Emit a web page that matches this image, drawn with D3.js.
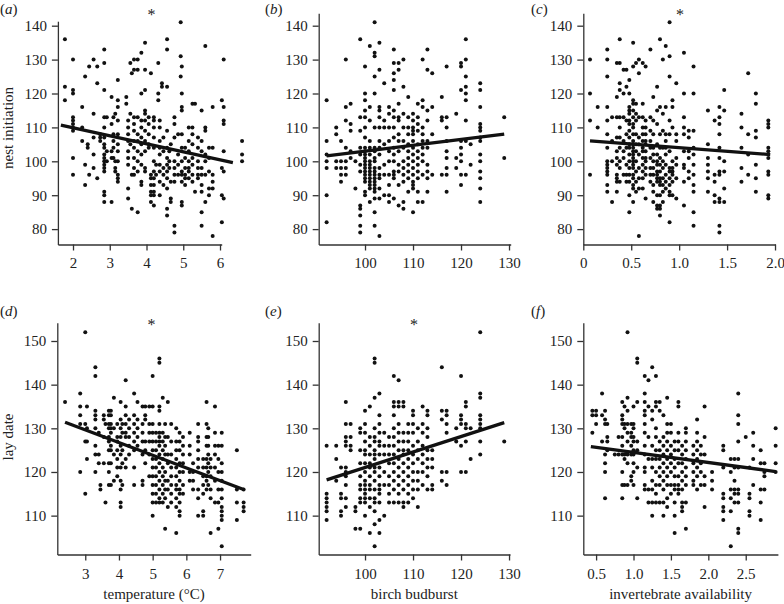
<!DOCTYPE html>
<html><head><meta charset="utf-8">
<script src="https://cdn.jsdelivr.net/npm/d3@7"></script>
<style>
body{margin:0;background:#fff}
svg text{font-family:"Liberation Serif","Times New Roman","DejaVu Serif",serif;fill:#222}
</style>
</head><body>
<svg id="chart" width="784" height="604"></svg>
<script>
// ---------- DATA (column groups: [x, [y values]]) ----------
const tempNest = [
[1.78,[136,122,118]],[2.0,[130,121,120,113,112,111,110,109,101,96]],[2.25,[116,110,106]],[2.33,[125,99,93]],
[2.4,[105,104]],[2.44,[128,96]],[2.56,[130,114,107,102,98]],[2.66,[128,123,95]],[2.74,[108,107,106]],
[2.85,[133,129,121,113,110,107,105,104,102,101,100,99,98,97,91,90,88]],[2.92,[113,103,100]],
[3.05,[119,111,103,101,88]],[3.1,[113,108,106,104,101]],[3.15,[114,100,98,97]],
[3.22,[124,118,116,112,108,105,103,100,96,95,94]],[3.45,[119,117]],[3.5,[112,110,108,106,103,101,99,92,89]],
[3.56,[129,114,105]],[3.6,[126,96,86]],[3.66,[130,127,113,111,109,106,104,101,98,96]],
[3.76,[130,127,113,108,106,103,100,97,85]],[3.86,[132,120,112,110,107,105,102,99,94,93]],
[3.96,[135,127,121,115,114,112,109,106,103,98,97]],[4.06,[113,111,108,105,104]],[4.12,[126,96,95,93,91,90,88]],
[4.2,[113,112,110,107,104,100,97,95,93,91,90,87]],[4.26,[99,96]],[4.32,[129,120,118]],
[4.36,[112,110,106,104,102,99,97,94,90]],[4.42,[123,122]],[4.46,[107,103,98,96,93]],
[4.56,[136,133,122,109,104,101,99,97,95,92,86,84]],[4.62,[103,100,98]],[4.66,[105,94,89,88]],
[4.76,[113,111,107,100,98,96,94,81,79]],[4.86,[108,102,99,96]],[4.93,[141,131,125]],
[4.96,[128,120,116,115,108,104,100,97,96,94,88,87]],[5.05,[104,101,98,96,95,93]],[5.15,[110,106,103,100,98,97,95]],
[5.25,[117,110,108,105,101,99,96,94]],[5.32,[117,91]],[5.4,[107,104,100,98,96,95]],
[5.5,[115,106,103,98,96,93,91,85,81]],[5.6,[134,110,109,102,100,96,88]],[5.7,[104,101,97,92,90]],
[5.8,[116,104,96,94,92,78]],[6.05,[118,98,90,82]],[6.1,[130,116,112,111,103,97,89]],[6.6,[106,102,100]]
];
const birchNest = [
[92,[118,106,102,100,98,90,82]],[94,[110,108,100,98]],[95,[106,100,98,96,94]],[96,[130,116,112,104,100,98,96]],
[97,[117,111,109,103,101]],[98,[100,92]],[99,[136,113,109,104,102,99,97,87,86,84,81,79]],
[100,[128,120,118,115,113,110,107,104,103,102,101,100,99,98,97,96,95,94,91,90]],
[101,[134,116,112,106,104,102,100,99,98,97,96,95,94,93,92,88]],
[102,[141,132,131,125,120,110,104,103,101,100,98,97,96,95,94,93,92,91,89,85,81]],
[103,[135,127,116,115,113,110,106,104,102,98,96,95,92,89,78]],[104,[123,112,110,105,99,96,90]],
[105,[116,114,110,106,103,100,96,93,90,88]],[106,[133,129,126,124,121,115,113,110,107,104,102,100,97,96,95,89]],
[107,[129,127,117,113,112,108,106,103,99,97,93,87]],[108,[130,122,114,110,106,104,100,98,96,94,88,86]],
[109,[119,113,110,108,105,103,101,99,97,95,91]],[110,[114,112,110,109,108,106,104,102,100,98,96,94,93,92,85]],
[111,[117,113,111,109,105,103,101,99,97,95,91,88]],[112,[130,118,116,110,108,106,104,102,100,96,88]],
[113,[133,127,115,112,106,104,99,97,95,91]],[114,[126,116,108,96]],[116,[119,113,112,96]],
[117,[128,113,110,106,103,101,98,96,91]],[119,[114,101,98]],[120,[129,128,121,106,104,102,100,96,93]],
[121,[136,130,125,122,120,118,112,106,96]],[122,[105,99]],
[124,[123,121,116,111,110,109,107,106,102,100,97,95,92,88]],[129,[113,101]]
];
const invertNest = [
[0.07,[130,120,112,96]],[0.15,[116,110]],[0.25,[133,130,125,116,112,108,104,100,99,98,97,96,93,91]],
[0.3,[113,106,100,88]],[0.35,[129,119,113,107,103,101,99,96,95,94,91]],[0.38,[136,129,123,121,113,110,107,104,100,98,94]],
[0.42,[127,120,113,106,103,101,96]],[0.45,[127,122,112,108,104,99,96,94]],
[0.48,[124,120,116,115,114,112,111,109,107,105,104,102,100,98,96,94,90,85]],
[0.52,[135,128,118,117,115,113,111,110,108,106,105,104,103,102,101,100,99,98,96,95,93,92,88]],
[0.55,[129,117,114,112,108,105,103,100,97,94,91]],[0.58,[130,126,113,107,105,102,98,95,92,78]],
[0.62,[129,117,113,110,108,106,104,103,101,99,97,95,92]],[0.65,[128,112,110,108,106,105,103,101,100,98,96,89]],
[0.7,[133,113,109,106,104,101,98,96,94]],[0.73,[119,112,108,104,102,100,98,96,93,91,88]],
[0.77,[122,115,111,105,102,100,99,97,96,95,94,90,87,86]],[0.8,[136,116,108,104,101,99,97,95,94,93,90,87,86,84]],
[0.83,[130,114,109,104,100,98,95,93,91,88]],[0.86,[134,116,108,106,104,102,99,96,94,92]],
[0.9,[141,131,125,112,108,103,98,97,95,93,91,90,82]],[0.93,[118,116,110,100,98,97,96,94,90]],
[0.97,[123,108,106,101,99,95,89]],[1.05,[132,120,113,110,108,103,99,98,94,87]],[1.1,[109,107,103,101,97,95]],
[1.15,[128,120,109,104,102,99,96,93,91,85,81]],[1.3,[115,105,101,99,97,95,91]],[1.37,[112,96,94,90,88]],
[1.42,[116,113,111,108,104,101,97,96,89,88,81,79]],[1.47,[121,115,100,97,92,88]],[1.65,[114,110,104,98,94]],
[1.72,[126,108,102,96]],[1.8,[120,117,109,107,99,95,91]],[1.93,[112,111,110,104,103,101,97,96,90,89]]
];
const tempLay = [
[2.4,[136]],[2.85,[138,135,133,131,120]],[3.0,[152,131,127,115]],[3.05,[135,130,127,123]],
[3.3,[144,142,134,133,132,130,126,124,120]],[3.4,[129,124,122]],[3.45,[117,116]],[3.55,[133,132,128,122]],
[3.6,[131,113]],[3.7,[134,133,131,130,128,127,125,122,120,117]],[3.76,[134,133,131,130,129,126,125,122,117]],
[3.85,[137,130,124,118]],[3.95,[131,128,127,125,123,121,119]],[4.05,[136,132,130,128,126,124,121,118,116,113,112]],
[4.1,[131,129,125,122,117]],[4.2,[141,135,133,131,129,128,123,121]],[4.3,[132,130,128,126,124]],
[4.45,[138,133,131,129,127,125,121,117]],[4.55,[136,132,130,128,126]],[4.7,[135,131,129,127,124,118,117]],
[4.78,[135,133,132,127,125,122]],[4.9,[135,131,129,127,124,119]],
[5.0,[142,135,131,129,127,125,123,121,119,117,115,113,110]],[5.1,[129,127,125,123,121,119,117,115,113]],
[5.2,[146,145,135,134,131,129,128,127,126,124,122,120,118,116,114,113]],[5.3,[137,129,127,125,123,121,119,117,115,113]],
[5.37,[131,128,126,124,120,118,116,114,107]],[5.45,[136,128,124,122,118,116,112]],[5.55,[131,127,124,121,119,117,115,113]],
[5.7,[130,127,125,123,121,119,117,116,114,112,106]],[5.8,[129,127,125,122,120,118,116,115,113,111,110]],
[5.9,[128,126,124,122,120,117,115]],[6.1,[129,126,124,120,118]],[6.2,[122,120,118,116]],
[6.35,[131,128,127,125,123,121,116,114,110]],[6.5,[123,121,119,117,115,111,110]],[6.6,[136,131,128,126,123,121,119,118,116]],
[6.65,[130,128,126,124,122,120,117]],[6.72,[123,121,119,116,114,106]],[6.85,[135,129,126,124,121,118,113]],
[6.95,[126,123,120,116,113,107]],[7.05,[129,126,122,120,118,116,114,112,111,110,109,103]],[7.5,[125,116,113,109]],
[7.7,[116,113,112,111]]
];
const birchLay = [
[92,[126,115,114,113,112,111,109]],[94,[126,123,118]],[95,[121,115,114,111,110]],
[96,[136,131,128,127,126,121,120,119,117,114,112]],[97,[131,128,126,125]],[98,[112,111,107]],
[99,[130,129,125,122,119,117,116,114,113,107]],[100,[134,131,129,127,125,124,122,120,118,117,116,115,114,113,110]],
[101,[135,128,126,124,122,121,119,117,116,114,112,106]],
[102,[146,145,137,130,128,127,125,124,123,121,120,118,116,114,113,111,108,103]],
[103,[138,133,131,129,127,126,124,121,119,117,116,115,113,109,106]],[104,[129,126,124,120,117,110]],
[105,[128,126,124,122,119,117,115,113]],[106,[142,136,135,133,130,128,126,124,122,120,118,116,113]],
[107,[141,136,135,131,129,127,125,123,121,119,117,115,113]],[108,[136,135,129,127,125,124,122,120,118,116,113,112]],
[109,[131,129,127,125,123,121,119,117,115,113]],[110,[134,133,131,129,126,124,122,120,118,116,114]],
[111,[130,127,125,123,120,118,116,112]],[112,[135,131,129,126,124,122,120,117]],
[113,[134,133,130,128,125,123,121,119,116]],[114,[125,123,121,117,116]],[116,[144,134,132,120,118]],
[117,[134,133,131,129,120,117]],[119,[130,127]],[120,[142,133,132,131,126,120]],[121,[136,135,131,130,127,120]],
[122,[130,123]],[124,[152,138,137,133,132,131,130,127,124]],[129,[127]]
];
const invertLay = [
[0.45,[134,133,129]],[0.5,[134,133,131]],[0.58,[138,133,127]],[0.62,[134,132,131,124,122,120,114]],
[0.65,[131,128,127,125]],[0.75,[124]],[0.8,[128,124]],[0.85,[136,133,132,131,128,126,124,120,117,114]],
[0.88,[135,131,130,124,123,117]],[0.92,[152,137,134,131,129,127,124,122,117]],[0.97,[131,129,128,126,124,119,118]],
[1.0,[135,131,130,128,127,125,124,122,120,117]],[1.05,[146,145,136,127,125,121,114]],
[1.15,[142,138,136,134,133,131,129,126,124,121,120,117,116]],[1.2,[141,135,128,123,116,113]],
[1.25,[144,134,132,126,123,121,118,116,113,110]],[1.3,[142,136,135,130,128,125,123,120,117,115,113]],
[1.35,[136,134,127,125,123,121,119,117,113]],[1.4,[133,128,126,124,122,120,118,116,113,110]],
[1.45,[137,131,129,127,125,123,121,119,117,114,112]],[1.5,[131,129,126,124,122,120,117,115]],
[1.55,[127,125,123,121,119,117,116,113,110,106]],[1.6,[136,135,129,127,125,122,119,117,116,115]],
[1.65,[126,124,122,120,118,116,113,112,111]],[1.7,[130,129,127,125,123,121,119,117,113,107]],
[1.8,[126,124,122,120,118,117]],[1.85,[132,129,127,125,123,121,119,116]],[1.9,[126,124,122,120,117]],
[1.95,[135,128,124,119,117,112]],[2.05,[120,118,116]],[2.2,[126,125,121,115,114,112,111,109]],
[2.3,[123,120,116,114,111,103]],[2.35,[123,121,118,116,115,113]],[2.4,[138,133,131,127,123,121,116,115,113,107,106]],
[2.5,[128]],[2.55,[121,115,114,111,110]],[2.6,[129,126,123,117]],[2.7,[125,122,116,113,109]],[2.75,[122,120,119,116]],
[2.9,[130,126,122,120]]
];
// regression lines [x0, y0, x1, y1]
const fitTempNest = [1.67, 110.7, 6.35, 99.6];
const fitBirchNest = [92, 101.6, 129, 108];
const fitInvertNest = [0.07, 106, 1.95, 102];
const fitTempLay = [2.4, 131.4, 7.7, 116];
const fitBirchLay = [92, 118.2, 129, 131.3];
const fitInvertLay = [0.43, 125.8, 2.9, 120.1];
// tick labels
const ticksNest = [80, 90, 100, 110, 120, 130, 140];
const ticksLay = [110, 120, 130, 140, 150];
const ticksTempA = [2, 3, 4, 5, 6];
const ticksTempD = [3, 4, 5, 6, 7];
const ticksBirch = [100, 110, 120, 130];
const ticksInvertC = [0, 0.5, 1.0, 1.5, 2.0];
const ticksInvertF = [0.5, 1.0, 1.5, 2.0, 2.5];
const panelLetters = ["a","b","c","d","e","f"];
const significant = [true, false, true, true, true, false];
const xTitles = ["temperature (°C)", "birch budburst", "invertebrate availability"];
const yTitles = ["nest initiation", "lay date"];

// ---------- LAYOUT ----------
const FONT = '"Liberation Serif","Times New Roman",serif';
const svg = d3.select("#chart");
const fmtDec = d => d === 0 ? "0" : d3.format(".1f")(d);
const panels = [
 {data: tempNest, fit: fitTempNest, xt: ticksTempA, fmt: d3.format("d"), xd:[1.589,6.046], xr:[57.9,221.7], row:0, col:0, top:21.2},
 {data: birchNest, fit: fitBirchNest, xt: ticksBirch, fmt: d3.format("d"), xd:[90.35,130.35], xr:[318.7,510.7], row:0, col:1, top:13.3},
 {data: invertNest, fit: fitInvertNest, xt: ticksInvertC, fmt: fmtDec, xd:[0,2.005], xr:[583.3,775.5], row:0, col:2, top:13.3},
 {data: tempLay, fit: fitTempLay, xt: ticksTempD, fmt: d3.format("d"), xd:[2.17,7.91], xr:[57.3,250.7], row:1, col:0, top:322.7},
 {data: birchLay, fit: fitBirchLay, xt: ticksBirch, fmt: d3.format("d"), xd:[90.35,130.2], xr:[318.7,510], row:1, col:1, top:322.7},
 {data: invertLay, fit: fitInvertLay, xt: ticksInvertF, fmt: fmtDec, xd:[0.329,2.93], xr:[583.3,777.9], row:1, col:2, top:322.7}
];
const rows = [
 {base:244.5, v0:75.46, pxRef:25.7, ref:140, per:3.39, ticks: ticksNest, pad:6.5, labY:14, starY:20},
 {base:554.5, v0:101.1, pxRef:341, ref:150, per:4.367, ticks: ticksLay, pad:7.8, labY:316, starY:330}
];
const starX = [151.5, 414, 680];
const letterX = [0, 265, 531];

panels.forEach((p, i) => {
  const r = rows[p.row];
  const yTopVal = r.ref + (r.pxRef - p.top) / r.per;
  const x = d3.scaleLinear().domain(p.xd).range(p.xr);
  const y = d3.scaleLinear().domain([r.v0, yTopVal]).range([r.base, p.top]);
  const g = svg.append("g");

  const xa = g.append("g").attr("transform", `translate(0,${r.base})`)
    .call(d3.axisBottom(x).tickValues(p.xt).tickFormat(p.fmt).tickSize(6).tickSizeOuter(0).tickPadding(r.pad));
  const ya = g.append("g").attr("transform", `translate(${p.xr[0]},0)`)
    .call(d3.axisLeft(y).tickValues(r.ticks).tickFormat(d3.format("d")).tickSize(6).tickSizeOuter(0).tickPadding(5));
  [xa, ya].forEach(a => {
    a.attr("font-family", FONT).attr("font-size", 15);
    a.selectAll("path,line").attr("stroke", "#333").attr("stroke-width", 1.3);
    a.selectAll("text").attr("font-family", FONT).attr("font-size", 15).attr("fill", "#222");
  });

  const pts = p.data.flatMap(([xv, ys]) => ys.map(yv => [xv, yv]));
  g.append("g").selectAll("circle").data(pts).join("circle")
    .attr("cx", d => x(d[0])).attr("cy", d => y(d[1])).attr("r", 2.0).attr("fill", "#111");

  g.append("line")
    .attr("x1", x(p.fit[0])).attr("y1", y(p.fit[1]))
    .attr("x2", x(p.fit[2])).attr("y2", y(p.fit[3]))
    .attr("stroke", "#111").attr("stroke-width", 3.3);

  const lab = g.append("text").attr("x", letterX[p.col]).attr("y", r.labY).attr("font-size", 15);
  lab.append("tspan").text("(");
  lab.append("tspan").attr("font-style", "italic").text(panelLetters[i]);
  lab.append("tspan").text(")");

  if (significant[i]) {
    g.append("text").attr("x", starX[p.col]).attr("y", r.starY)
      .attr("text-anchor", "middle").attr("font-size", 16).text("*");
  }

  if (p.row === 1) {
    g.append("text").attr("x", (p.xr[0] + p.xr[1]) / 2).attr("y", 599)
      .attr("text-anchor", "middle").attr("font-size", 15).text(xTitles[p.col]);
  }
  if (p.col === 0) {
    const cy = p.row === 0 ? 128 : 437;
    g.append("text").attr("transform", `translate(13,${cy}) rotate(-90)`)
      .attr("text-anchor", "middle").attr("font-size", 15).text(yTitles[p.row]);
  }
});
</script>
</body></html>
